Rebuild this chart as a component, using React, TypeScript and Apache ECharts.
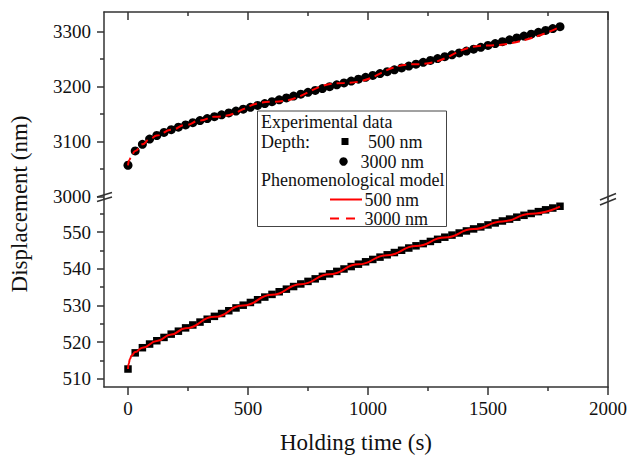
import React, { useEffect, useRef } from "react";
import * as echarts from "echarts";

// ---- Data ----
const holdingTime = [
  0, 30, 60, 90, 120, 150, 180, 210, 240, 270, 300, 330, 360, 390, 420, 450, 480, 510, 540, 570,
  600, 630, 660, 690, 720, 750, 780, 810, 840, 870, 900, 930, 960, 990, 1020, 1050, 1080, 1110,
  1140, 1170, 1200, 1230, 1260, 1290, 1320, 1350, 1380, 1410, 1440, 1470, 1500, 1530, 1560, 1590,
  1620, 1650, 1680, 1710, 1740, 1770, 1800,
];

const exp500nm = [
  512.7, 517.1, 518.5, 519.5, 520.4, 521.3, 522.2, 523.0, 523.9, 524.69, 525.48, 526.26, 527.04,
  527.81, 528.57, 529.33, 530.08, 530.82, 531.56, 532.29, 533.02, 533.74, 534.45, 535.16, 535.86,
  536.56, 537.25, 537.93, 538.61, 539.28, 539.94, 540.6, 541.25, 541.9, 542.54, 543.17, 543.8,
  544.42, 545.04, 545.65, 546.25, 546.85, 547.44, 548.02, 548.6, 549.17, 549.74, 550.3, 550.85,
  551.4, 551.94, 552.48, 553.01, 553.53, 554.05, 554.56, 555.06, 555.56, 556.05, 556.54, 557.02,
];

const exp3000nm = [
  3057, 3083, 3095, 3104.5, 3111, 3116.5, 3121.5, 3126, 3130.2, 3134.2, 3138, 3141.6, 3145.1,
  3148.5, 3151.9, 3155.3, 3158.7, 3162.1, 3165.5, 3168.9, 3172.3, 3175.7, 3179.1, 3182.5, 3185.9,
  3189.3, 3192.7, 3196.1, 3199.5, 3202.9, 3206.3, 3209.7, 3213.1, 3216.5, 3219.9, 3223.3, 3226.7,
  3230.1, 3233.5, 3236.9, 3240.3, 3243.7, 3247.1, 3250.5, 3253.9, 3257.3, 3260.7, 3264.1, 3267.5,
  3270.9, 3274.3, 3277.7, 3281.1, 3284.5, 3287.9, 3291.3, 3294.7, 3298.1, 3301.5, 3304.9, 3308.3,
];

const model500Time = [0, 3, 8, 15, 30, 60, 120, 180, 240, 360, 480, 600, 720, 840, 960, 1080, 1200, 1320, 1440, 1560, 1680, 1800];
const model500Value = [512.7, 514.2, 515.4, 516.4, 517.3, 518.5, 520.3, 522.1, 523.8, 526.9, 530.0, 532.9, 535.8, 538.5, 541.2, 543.7, 546.2, 548.5, 550.8, 552.9, 555.0, 556.9];

const model3000Time = [0, 5, 15, 30, 60, 90, 120, 180, 240, 300, 360, 600, 900, 1200, 1500, 1800];
const model3000Value = [3057, 3066, 3076, 3083, 3095, 3104, 3111, 3121.5, 3130, 3138, 3145, 3172.3, 3206.3, 3240.3, 3274.3, 3308.3];

const xMajorTicks = [0, 500, 1000, 1500, 2000];
const xMinorTicks = [250, 750, 1250, 1750];
const yTopMajorTicks = [3000, 3100, 3200, 3300];
const yTopMinorTicks = [3050, 3150, 3250];
const yBottomMajorTicks = [510, 520, 530, 540, 550];
const yBottomMinorTicks = [515, 525, 535, 545, 555];

const X_MIN = -100;
const X_MAX = 2000;
const TOP_MIN = 2995.8;
const TOP_MAX = 3335;
const BOTTOM_MIN = 507.8;
const BOTTOM_MAX = 559;

const FONT = "'Liberation Serif', 'Times New Roman', serif";
const AX = "#333";
const TXT = "#111";

export default function App() {
  const ref = useRef<HTMLDivElement>(null);

  useEffect(() => {
    if (!ref.current) return;
    const chart = echarts.init(ref.current, null, { renderer: "svg", width: 630, height: 455 });

    const gridTop = { left: 104, top: 12, width: 504, height: 187, outerBoundsMode: "none" };
    const gridBottom = { left: 104, top: 199, width: 504, height: 188, outerBoundsMode: "none" };

    const lineStyle = { color: AX, width: 1.5 };
    const plain = (v: number) => String(v);
    const labelStyle = { fontFamily: FONT, fontSize: 19, color: TXT, formatter: plain };

    const xBase = {
      type: "value",
      min: X_MIN,
      max: X_MAX,
      splitLine: { show: false },
    };
    const yTopBase = { type: "value", min: TOP_MIN, max: TOP_MAX, splitLine: { show: false } };
    const yBottomBase = { type: "value", min: BOTTOM_MIN, max: BOTTOM_MAX, splitLine: { show: false } };

    const option: any = {
      animation: false,
      backgroundColor: "#ffffff",
      grid: [gridTop, gridBottom, { ...gridTop }, { ...gridBottom }],
      xAxis: [
        {
          ...xBase,
          gridIndex: 0,
          position: "top",
          axisLine: { show: true, onZero: false, lineStyle },
          axisTick: { show: true, inside: true, length: 8, lineStyle, customValues: xMajorTicks },
          axisLabel: { show: false },
        },
        {
          ...xBase,
          gridIndex: 1,
          position: "bottom",
          axisLine: { show: true, onZero: false, lineStyle },
          axisTick: { show: true, inside: false, length: 8, lineStyle, customValues: xMajorTicks },
          axisLabel: { ...labelStyle, margin: 12, customValues: xMajorTicks },
        },
        {
          ...xBase,
          gridIndex: 2,
          position: "top",
          axisLine: { show: false, onZero: false },
          axisTick: { show: true, inside: true, length: 4, lineStyle, customValues: xMinorTicks },
          axisLabel: { show: false },
        },
        {
          ...xBase,
          gridIndex: 3,
          position: "bottom",
          axisLine: { show: false, onZero: false },
          axisTick: { show: true, inside: false, length: 4, lineStyle, customValues: xMinorTicks },
          axisLabel: { show: false },
        },
      ],
      yAxis: [
        {
          ...yTopBase,
          gridIndex: 0,
          position: "left",
          axisLine: { show: true, onZero: false, lineStyle },
          axisTick: { show: true, inside: false, length: 7, lineStyle, customValues: yTopMajorTicks },
          axisLabel: { ...labelStyle, margin: 13, customValues: yTopMajorTicks },
        },
        {
          ...yTopBase,
          gridIndex: 0,
          position: "right",
          axisLine: { show: true, onZero: false, lineStyle },
          axisTick: { show: false },
          axisLabel: { show: false },
        },
        {
          ...yBottomBase,
          gridIndex: 1,
          position: "left",
          axisLine: { show: true, onZero: false, lineStyle },
          axisTick: { show: true, inside: false, length: 7, lineStyle, customValues: yBottomMajorTicks },
          axisLabel: { ...labelStyle, margin: 13, customValues: yBottomMajorTicks },
        },
        {
          ...yBottomBase,
          gridIndex: 1,
          position: "right",
          axisLine: { show: true, onZero: false, lineStyle },
          axisTick: { show: false },
          axisLabel: { show: false },
        },
        {
          ...yTopBase,
          gridIndex: 2,
          position: "left",
          axisLine: { show: false, onZero: false },
          axisTick: { show: true, inside: false, length: 4, lineStyle, customValues: yTopMinorTicks },
          axisLabel: { show: false },
        },
        {
          ...yBottomBase,
          gridIndex: 3,
          position: "left",
          axisLine: { show: false, onZero: false },
          axisTick: { show: true, inside: false, length: 4, lineStyle, customValues: yBottomMinorTicks },
          axisLabel: { show: false },
        },
      ],
      series: [
        {
          type: "scatter",
          name: "Experimental 500 nm",
          xAxisIndex: 1,
          yAxisIndex: 2,
          symbol: "rect",
          symbolSize: 7.5,
          itemStyle: { color: "#000", opacity: 1 },
          data: holdingTime.map((t, i) => [t, exp500nm[i]]),
          z: 2,
        },
        {
          type: "line",
          name: "Model 500 nm",
          xAxisIndex: 1,
          yAxisIndex: 2,
          showSymbol: false,
          smooth: true,
          smoothMonotone: "x",
          lineStyle: { color: "#ff0000", width: 2 },
          data: model500Time.map((t, i) => [t, model500Value[i]]),
          z: 3,
        },
        {
          type: "scatter",
          name: "Experimental 3000 nm",
          xAxisIndex: 0,
          yAxisIndex: 0,
          symbol: "circle",
          symbolSize: 9,
          itemStyle: { color: "#000", opacity: 1 },
          data: holdingTime.map((t, i) => [t, exp3000nm[i]]),
          z: 2,
        },
        {
          type: "line",
          name: "Model 3000 nm",
          xAxisIndex: 0,
          yAxisIndex: 0,
          showSymbol: false,
          smooth: true,
          smoothMonotone: "x",
          lineStyle: { color: "#ff0000", width: 2, type: [8, 5] },
          data: model3000Time.map((t, i) => [t, model3000Value[i]]),
          z: 3,
        },
      ],
      graphic: [
        // axis break marks
        { type: "line", shape: { x1: 97, y1: 197, x2: 112, y2: 192.5 }, style: { stroke: AX, lineWidth: 1.5 }, z: 50 },
        { type: "line", shape: { x1: 97, y1: 201.5, x2: 112, y2: 197 }, style: { stroke: AX, lineWidth: 1.5 }, z: 50 },
        { type: "line", shape: { x1: 600, y1: 200, x2: 616, y2: 193.5 }, style: { stroke: AX, lineWidth: 1.5 }, z: 50 },
        { type: "line", shape: { x1: 600, y1: 205, x2: 616, y2: 198.5 }, style: { stroke: AX, lineWidth: 1.5 }, z: 50 },
        // axis titles
        {
          type: "text",
          x: 19,
          y: 204,
          rotation: Math.PI / 2,
          style: { text: "Displacement (nm)", font: `23px ${FONT}`, fill: TXT, align: "center", verticalAlign: "middle" },
        },
        {
          type: "text",
          x: 356,
          y: 442,
          style: { text: "Holding time (s)", font: `23px ${FONT}`, fill: TXT, align: "center", verticalAlign: "middle" },
        },
        // legend
        {
          type: "group",
          z: 100,
          children: [
            { type: "rect", shape: { x: 257.5, y: 111, width: 189, height: 115.5 }, style: { fill: "#fff", stroke: "#444", lineWidth: 1 } },
            { type: "text", x: 261, y: 122, style: { text: "Experimental data", font: `18px ${FONT}`, fill: TXT, verticalAlign: "middle" } },
            { type: "text", x: 261, y: 141.5, style: { text: "Depth:", font: `18px ${FONT}`, fill: TXT, verticalAlign: "middle" } },
            { type: "rect", shape: { x: 341.5, y: 138, width: 7, height: 7 }, style: { fill: "#000" } },
            { type: "text", x: 368, y: 141.5, style: { text: "500 nm", font: `18px ${FONT}`, fill: TXT, verticalAlign: "middle" } },
            { type: "circle", shape: { cx: 343.5, cy: 161.5, r: 4.2 }, style: { fill: "#000" } },
            { type: "text", x: 360.5, y: 161.5, style: { text: "3000 nm", font: `18px ${FONT}`, fill: TXT, verticalAlign: "middle" } },
            { type: "text", x: 261, y: 180, style: { text: "Phenomenological model", font: `18px ${FONT}`, fill: TXT, verticalAlign: "middle" } },
            { type: "line", shape: { x1: 330, y1: 199.5, x2: 362, y2: 199.5 }, style: { stroke: "#ff0000", lineWidth: 2 } },
            { type: "text", x: 364.5, y: 199.5, style: { text: "500 nm", font: `18px ${FONT}`, fill: TXT, verticalAlign: "middle" } },
            { type: "line", shape: { x1: 330, y1: 218.5, x2: 362, y2: 218.5 }, style: { stroke: "#ff0000", lineWidth: 2, lineDash: [9, 7] } },
            { type: "text", x: 364.5, y: 218.5, style: { text: "3000 nm", font: `18px ${FONT}`, fill: TXT, verticalAlign: "middle" } },
          ],
        },
      ],
    };

    chart.setOption(option);
    return () => chart.dispose();
  }, []);

  return (
    <div
      ref={ref}
      style={{ position: "absolute", left: 0, top: 0, width: 630, height: 455, background: "#fff" }}
    />
  );
}
